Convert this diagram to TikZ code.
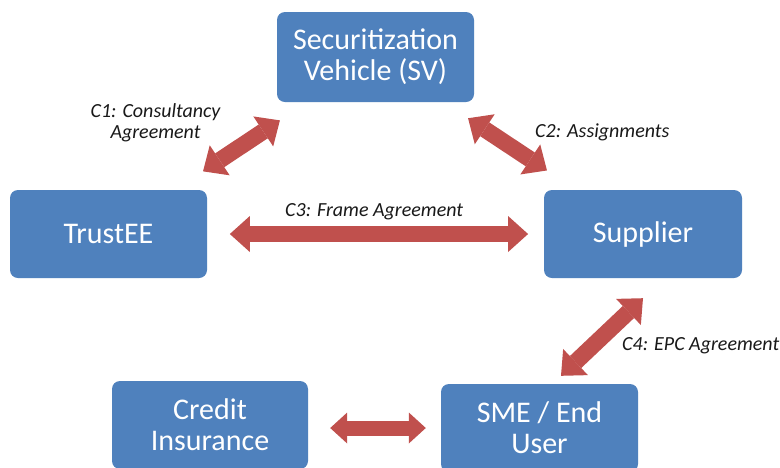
\documentclass[tikz,border=0pt]{standalone}
\usepackage{fontspec}
\setmainfont{Carlito}
\usetikzlibrary{arrows.meta,calc}
\definecolor{boxblue}{HTML}{4F81BD}
\definecolor{arrowred}{HTML}{C0504D}
\begin{document}
\begin{tikzpicture}[x=1pt,y=-1pt,
  box/.style={fill=boxblue, rounded corners=8pt, text=white,
    font=\fontsize{30}{31}\selectfont, align=center, inner sep=0pt,
    minimum width=197pt, minimum height=88pt},
  lbl/.style={font=\fontsize{20}{21}\selectfont\itshape, text=black!90,
    inner sep=0pt, align=center},
  blockarrow/.style={draw=arrowred, line width=16.5pt,
    {Triangle[width=36pt,length=20pt,line width=0pt]}-{Triangle[width=36pt,length=20pt,line width=0pt]}},
  smallarrow/.style={draw=arrowred, line width=15pt,
    {Triangle[width=31pt,length=17pt,line width=0pt]}-{Triangle[width=31pt,length=17pt,line width=0pt]}}
]
\useasboundingbox (0,0) rectangle (780,467);
\clip (0,0) rectangle (780,467);
\fill[white] (0,0) rectangle (780,467);

\node[box, minimum height=90pt] (sv) at (375.5,57) {Securitization\\Vehicle (SV)};
\node[box] (tr) at (108.5,234) {TrustEE};
\node[box, minimum width=198pt] (sup) at (643,234) {Supplier};
\node[box, minimum width=196pt] (ci) at (210,425) {Credit\\Insurance};
\node[box] (sme) at (539.5,428) {SME / End\\User};

\draw[blockarrow] ($(tr)!0.354!(sv)$) -- ($(tr)!0.642!(sv)$);
\draw[blockarrow] ($(sv)!0.346!(sup)$) -- ($(sv)!0.641!(sup)$);
\draw[blockarrow] ($(tr)!0.227!(sup)$) -- ($(tr)!0.785!(sup)$);
\draw[blockarrow] ($(sup.south)+(0,20)$) -- ($(sme.north)+(21.5,-8)$);
\draw[smallarrow] ($(ci.east |- sme.west)+(22,0)$) -- ($(sme.west)+(-15,0)$);

\node[lbl, anchor=base] (l1) at (155.5,138) {C1: Consultancy\\Agreement};
\node[lbl, anchor=base west] (l2) at (535,137) {C2: Assignments};
\node[lbl, anchor=base west] (l3) at (285,216) {C3: Frame Agreement};
\node[lbl, anchor=base west] (l4) at (622,350) {C4: EPC Agreement};
\end{tikzpicture}
\end{document}
